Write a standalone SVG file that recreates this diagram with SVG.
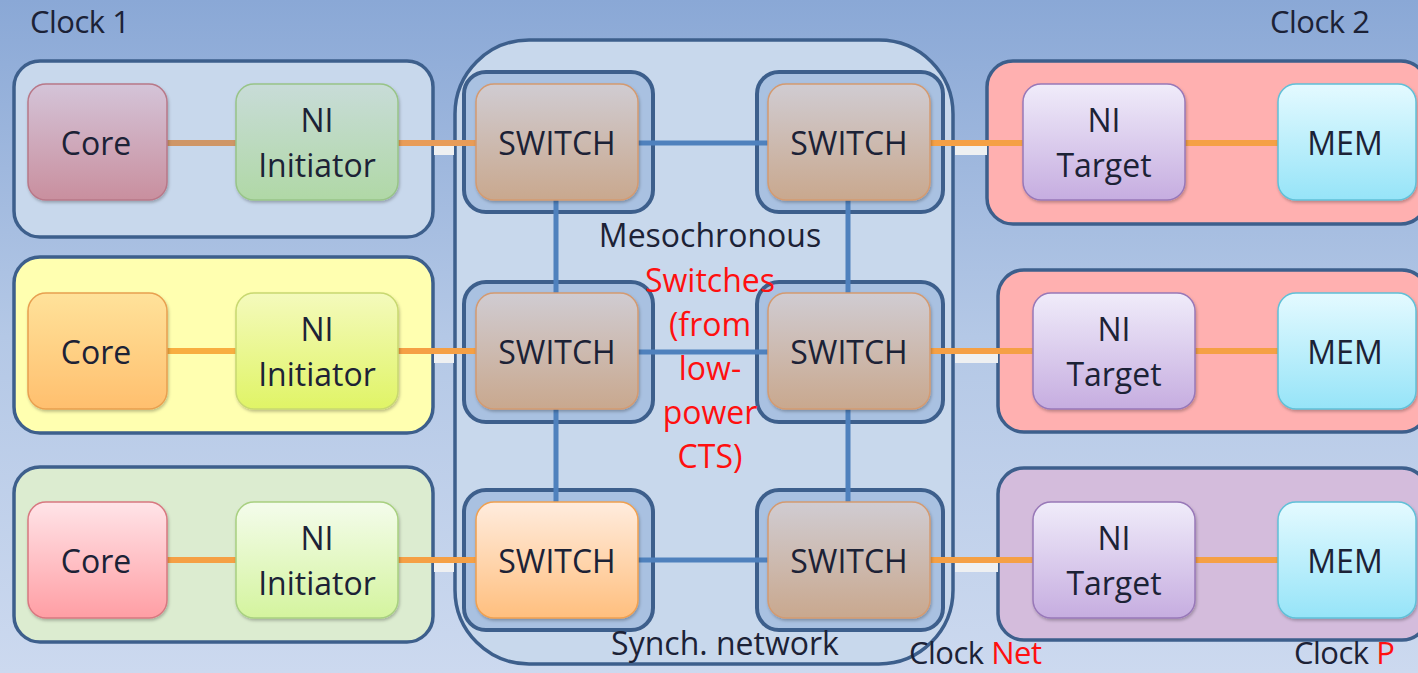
<svg xmlns="http://www.w3.org/2000/svg" width="1418" height="673" viewBox="0 0 1418 673">
<style>
text{font-family:"Open Sans","Liberation Sans",sans-serif;font-size:32px;fill:#1c2236;text-anchor:middle}
.lbl{text-anchor:start;font-size:31px;letter-spacing:-0.5px}
.red{fill:#ff1010}
.dom{stroke:#3d5f8c;stroke-width:3.5}
.frame{fill:#a9c1e1;stroke:#3d5f8c;stroke-width:4}
.node{stroke-width:1.5;filter:url(#sh)}
.oc{stroke:#f5a045;stroke-width:6;fill:none}
.bc{stroke:#4f81bd;stroke-width:5;fill:none}
.ws{fill:#eef0f2}
</style>
<defs>
<linearGradient id="bg" x1="0" y1="0" x2="0" y2="1"><stop offset="0" stop-color="#8aa8d6"/><stop offset="0.5" stop-color="#b4c8e6"/><stop offset="1" stop-color="#ccd9ef"/></linearGradient>
<linearGradient id="gCore1" x1="0" y1="0" x2="0" y2="1"><stop offset="0" stop-color="#d4c4d8"/><stop offset="1" stop-color="#c98f9e"/></linearGradient>
<linearGradient id="gNi1" x1="0" y1="0" x2="0" y2="1"><stop offset="0" stop-color="#c8dcd8"/><stop offset="1" stop-color="#b0d8a6"/></linearGradient>
<linearGradient id="gCore2" x1="0" y1="0" x2="0" y2="1"><stop offset="0" stop-color="#ffe29a"/><stop offset="1" stop-color="#ffbf6e"/></linearGradient>
<linearGradient id="gNi2" x1="0" y1="0" x2="0" y2="1"><stop offset="0" stop-color="#f4fabc"/><stop offset="1" stop-color="#e0f466"/></linearGradient>
<linearGradient id="gCore3" x1="0" y1="0" x2="0" y2="1"><stop offset="0" stop-color="#ffe4e8"/><stop offset="1" stop-color="#ff9ea4"/></linearGradient>
<linearGradient id="gNi3" x1="0" y1="0" x2="0" y2="1"><stop offset="0" stop-color="#f4fcec"/><stop offset="1" stop-color="#d4f49e"/></linearGradient>
<linearGradient id="gSw" x1="0" y1="0" x2="0" y2="1"><stop offset="0" stop-color="#d0ccd2"/><stop offset="1" stop-color="#c9a88e"/></linearGradient>
<linearGradient id="gSwO" x1="0" y1="0" x2="0" y2="1"><stop offset="0" stop-color="#ffecde"/><stop offset="1" stop-color="#ffbf7e"/></linearGradient>
<linearGradient id="gNit" x1="0" y1="0" x2="0" y2="1"><stop offset="0" stop-color="#f0ecfa"/><stop offset="1" stop-color="#c6ade0"/></linearGradient>
<linearGradient id="gMem" x1="0" y1="0" x2="0" y2="1"><stop offset="0" stop-color="#e4faff"/><stop offset="1" stop-color="#96e4f8"/></linearGradient>
<filter id="sh" x="-10%" y="-10%" width="125%" height="125%"><feDropShadow dx="1" dy="2" stdDeviation="1.5" flood-color="#000" flood-opacity="0.25"/></filter>
</defs>
<rect x="0" y="0" width="1418" height="673" fill="url(#bg)"/>

<g id="domains">
<rect id="dom-l1" class="dom" x="14" y="61" width="419" height="176" rx="26" fill="#c8d8ec"/>
<rect id="dom-l2" class="dom" x="14" y="257" width="419" height="176" rx="26" fill="#ffffb0"/>
<rect id="dom-l3" class="dom" x="14" y="467" width="419" height="175" rx="26" fill="#dcecd0"/>
<rect id="dom-r1" class="dom" x="987" y="61" width="440" height="163" rx="26" fill="#ffb0b0"/>
<rect id="dom-r2" class="dom" x="998" y="270" width="430" height="162" rx="26" fill="#ffb0b0"/>
<rect id="dom-r3" class="dom" x="998" y="468" width="430" height="172" rx="26" fill="#d4bcdc"/>
</g>

<g id="network">
<rect class="dom" x="455" y="40" width="498" height="624" rx="74" fill="#c8d8ec"/>
<rect class="frame" x="464" y="72" width="189" height="140" rx="22"/>
<rect class="frame" x="757" y="72" width="186" height="140" rx="22"/>
<rect class="frame" x="464" y="282" width="189" height="140" rx="22"/>
<rect class="frame" x="757" y="282" width="186" height="140" rx="22"/>
<rect class="frame" x="464" y="490" width="189" height="140" rx="22"/>
<rect class="frame" x="757" y="490" width="186" height="140" rx="22"/>
<text x="710" y="247">Mesochronous</text>
<text class="red" x="710" y="292">Switches</text>
<text class="red" x="710" y="336">(from</text>
<text class="red" x="710" y="380">low-</text>
<text class="red" x="710" y="424">power</text>
<text class="red" x="710" y="468">CTS)</text>
<text x="725" y="655">Synch. network</text>
</g>

<g id="connectors">
<rect class="ws" x="434" y="146" width="20" height="9"/>
<rect class="ws" x="434" y="354" width="20" height="9"/>
<rect class="ws" x="434" y="563" width="20" height="9"/>
<rect class="ws" x="955" y="146" width="32" height="9"/>
<rect class="ws" x="955" y="354" width="43" height="9"/>
<rect class="ws" x="955" y="563" width="43" height="9"/>
<line class="oc" x1="167" y1="143" x2="236" y2="143" style="stroke:#cf9666"/>
<line class="oc" x1="398" y1="143" x2="476" y2="143" style="stroke:#e89c58"/>
<line class="oc" x1="167" y1="351" x2="236" y2="351" style="stroke:#f8ae40"/>
<line class="oc" x1="398" y1="351" x2="476" y2="351"/>
<line class="oc" x1="167" y1="560" x2="236" y2="560"/>
<line class="oc" x1="398" y1="560" x2="476" y2="560"/>
<line class="oc" x1="930" y1="143" x2="1023" y2="143"/>
<line class="oc" x1="1185" y1="143" x2="1278" y2="143"/>
<line class="oc" x1="930" y1="351" x2="1033" y2="351"/>
<line class="oc" x1="1195" y1="351" x2="1278" y2="351"/>
<line class="oc" x1="930" y1="560" x2="1033" y2="560"/>
<line class="oc" x1="1195" y1="560" x2="1278" y2="560"/>
<line class="bc" x1="638" y1="143" x2="768" y2="143"/>
<line class="bc" x1="638" y1="352" x2="768" y2="352"/>
<line class="bc" x1="638" y1="560" x2="768" y2="560"/>
<line class="bc" x1="556" y1="200" x2="556" y2="293"/>
<line class="bc" x1="556" y1="409" x2="556" y2="502"/>
<line class="bc" x1="848" y1="200" x2="848" y2="293"/>
<line class="bc" x1="848" y1="409" x2="848" y2="502"/>
</g>

<g id="core1"><rect class="node" x="28" y="84" width="139" height="116" rx="18" fill="url(#gCore1)" stroke="#b87888"/><text x="96" y="155">Core</text></g>
<g id="ni1"><rect class="node" x="236" y="84" width="162" height="116" rx="18" fill="url(#gNi1)" stroke="#98c488"/><text x="317" y="132">NI</text><text x="317" y="177">Initiator</text></g>
<g id="core2"><rect class="node" x="28" y="293" width="139" height="116" rx="18" fill="url(#gCore2)" stroke="#e8a050"/><text x="96" y="364">Core</text></g>
<g id="ni2"><rect class="node" x="236" y="293" width="162" height="116" rx="18" fill="url(#gNi2)" stroke="#c8d870"/><text x="317" y="341">NI</text><text x="317" y="386">Initiator</text></g>
<g id="core3"><rect class="node" x="28" y="502" width="139" height="116" rx="18" fill="url(#gCore3)" stroke="#d87880"/><text x="96" y="573">Core</text></g>
<g id="ni3"><rect class="node" x="236" y="502" width="162" height="116" rx="18" fill="url(#gNi3)" stroke="#a8d080"/><text x="317" y="550">NI</text><text x="317" y="595">Initiator</text></g>

<g id="sw-tl"><rect class="node" x="476" y="84" width="162" height="116" rx="18" fill="url(#gSw)" stroke="#d49a70"/><text x="557" y="155">SWITCH</text></g>
<g id="sw-tr"><rect class="node" x="768" y="84" width="162" height="116" rx="18" fill="url(#gSw)" stroke="#d49a70"/><text x="849" y="155">SWITCH</text></g>
<g id="sw-ml"><rect class="node" x="476" y="293" width="162" height="116" rx="18" fill="url(#gSw)" stroke="#d49a70"/><text x="557" y="364">SWITCH</text></g>
<g id="sw-mr"><rect class="node" x="768" y="293" width="162" height="116" rx="18" fill="url(#gSw)" stroke="#d49a70"/><text x="849" y="364">SWITCH</text></g>
<g id="sw-bl"><rect class="node" x="476" y="502" width="162" height="116" rx="18" fill="url(#gSwO)" stroke="#f0a050"/><text x="557" y="573">SWITCH</text></g>
<g id="sw-br"><rect class="node" x="768" y="502" width="162" height="116" rx="18" fill="url(#gSw)" stroke="#d49a70"/><text x="849" y="573">SWITCH</text></g>

<g id="nit1"><rect class="node" x="1023" y="84" width="162" height="116" rx="18" fill="url(#gNit)" stroke="#9878b8"/><text x="1104" y="132">NI</text><text x="1104" y="177">Target</text></g>
<g id="mem1"><rect class="node" x="1278" y="84" width="138" height="116" rx="18" fill="url(#gMem)" stroke="#60c0d8"/><text x="1345" y="155">MEM</text></g>
<g id="nit2"><rect class="node" x="1033" y="293" width="162" height="116" rx="18" fill="url(#gNit)" stroke="#9878b8"/><text x="1114" y="341">NI</text><text x="1114" y="386">Target</text></g>
<g id="mem2"><rect class="node" x="1278" y="293" width="138" height="116" rx="18" fill="url(#gMem)" stroke="#60c0d8"/><text x="1345" y="364">MEM</text></g>
<g id="nit3"><rect class="node" x="1033" y="502" width="162" height="116" rx="18" fill="url(#gNit)" stroke="#9878b8"/><text x="1114" y="550">NI</text><text x="1114" y="595">Target</text></g>
<g id="mem3"><rect class="node" x="1278" y="502" width="138" height="116" rx="18" fill="url(#gMem)" stroke="#60c0d8"/><text x="1345" y="573">MEM</text></g>

<g id="clock-labels">
<text class="lbl" x="30" y="33">Clock 1</text>
<text class="lbl" x="1270" y="33">Clock 2</text>
<text class="lbl" x="909" y="664">Clock <tspan class="red">Net</tspan></text>
<text class="lbl" x="1294" y="664">Clock <tspan class="red">P</tspan></text>
</g>
</svg>
